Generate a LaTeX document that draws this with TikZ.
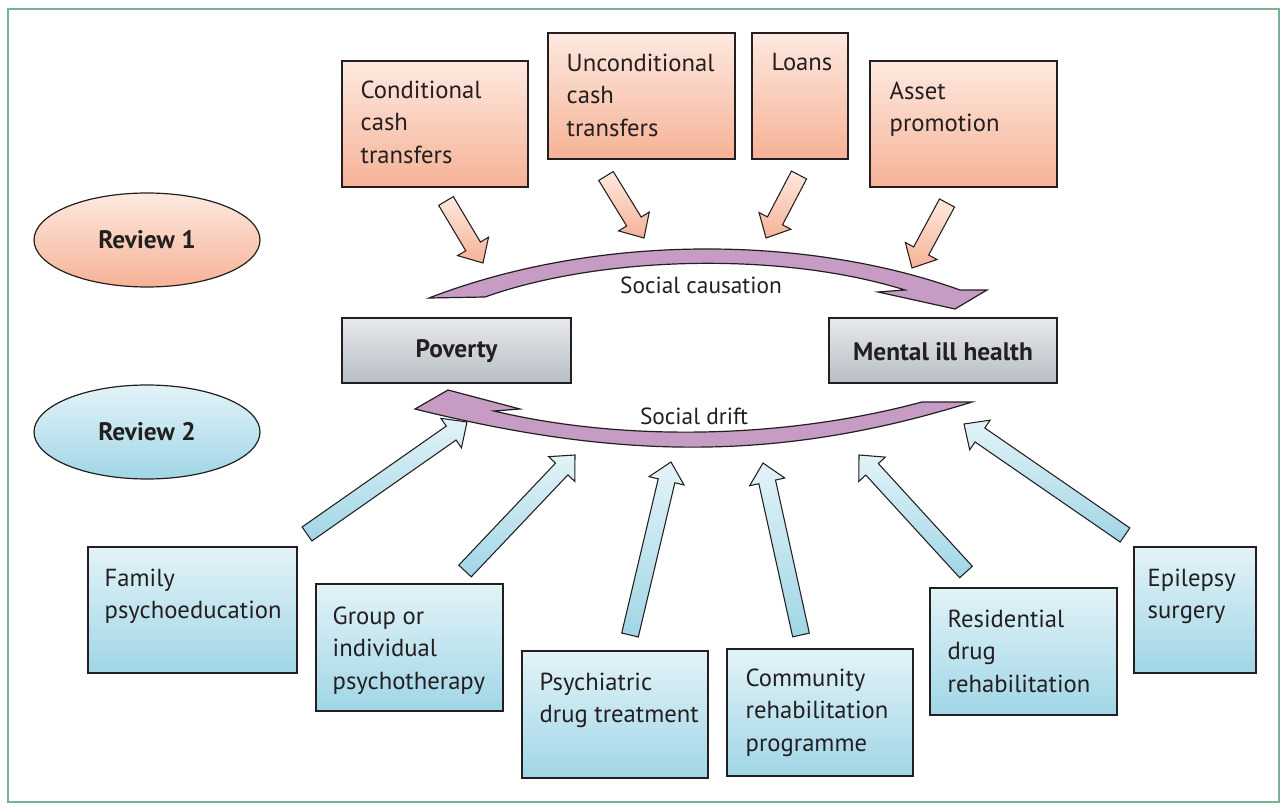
\documentclass[tikz,border=0pt]{standalone}
\usepackage{fontspec}
\setmainfont{PT Sans}
\usetikzlibrary{shapes.geometric,calc,fit}
\definecolor{framegreen}{RGB}{122,179,148}
\definecolor{ortop}{RGB}{253,233,224}
\definecolor{orbot}{RGB}{246,178,150}
\definecolor{bltop}{RGB}{227,243,248}
\definecolor{blbot}{RGB}{160,214,230}
\definecolor{grtop}{RGB}{231,233,235}
\definecolor{grbot}{RGB}{184,190,197}
\definecolor{purp}{RGB}{198,156,196}
\definecolor{ink}{RGB}{35,31,32}
\newcommand\shw{6.4pt}
\newcommand\hdw{13.5pt}
\newcommand\hdl{14.5pt}
% block arrow: style, tail coordinate, tip coordinate
\newcommand\blockarr[3]{%
  \path[#1] ($(#2)!\shw!90:(#3)$) -- ($(#3)!\hdl!(#2)!\shw!-90:(#2)$)
    -- ($(#3)!\hdl!(#2)!\hdw!-90:(#2)$) -- (#3)
    -- ($(#3)!\hdl!(#2)!\hdw!90:(#2)$) -- ($(#3)!\hdl!(#2)!\shw!90:(#2)$)
    -- ($(#2)!\shw!-90:(#3)$) -- cycle;}
\begin{document}
\begin{tikzpicture}[x=0.75pt,y=-0.75pt,
  frame/.style={draw=framegreen,line width=1.5pt},
  box/.style={draw=ink,line width=0.9pt,rectangle,inner sep=0pt},
  obox/.style={box,top color=ortop,bottom color=orbot},
  bbox/.style={box,top color=bltop,bottom color=blbot},
  gbox/.style={box,top color=grtop,bottom color=grbot},
  txt/.style={anchor=north west,inner sep=0pt,align=left,text=ink,font=\fontsize{18.5}{24.4}\selectfont},
  btxt/.style={inner sep=0pt,text=ink,font=\bfseries\fontsize{19}{24}\selectfont},
  oval/.style={ellipse,draw=ink,line width=0.9pt,minimum width=169.5pt,minimum height=70.5pt,inner sep=0pt,text=ink,font=\bfseries\fontsize{19}{24}\selectfont},
  oarr/.style={draw=ink,line width=0.8pt,top color=ortop,bottom color=orbot},
  barr/.style={draw=ink,line width=0.8pt,top color=bltop,bottom color=blbot},
  arc/.style={draw=ink,line width=0.9pt,fill=purp,line join=miter},
  lbl/.style={inner sep=0pt,text=ink,font=\fontsize{17.5}{24}\selectfont}]
\useasboundingbox (0,0) rectangle (1287,812);
\draw[frame] (8,9) rectangle (1279,802);

% review ovals
\node[oval,top color=ortop,bottom color=orbot] (r1) at (147,240) {Review 1};
\node[oval,top color=bltop,bottom color=blbot] (r2) at (147,432) {Review 2};

% top boxes
\node[obox,fit={(342,61) (528,187)}] (cct) {};
\node[obox,fit={(548,33) (735,159)}] (uct) {};
\node[obox,fit={(752,33) (848,159)}] (loans) {};
\node[obox,fit={(870,61) (1057,187)}] (asset) {};
\node[txt] (cctt) at ($(cct.north west)+(19,20)$) {Conditional\\cash\\transfers};
\node[txt] (uctt) at ($(uct.north west)+(19,21)$) {Unconditional\\cash\\transfers};
\node[txt] (loanst) at ($(loans.north west)+(20,21)$) {Loans};
\node[txt] (assett) at ($(asset.north west)+(20,21)$) {Asset\\promotion};

% central boxes
\node[gbox,fit={(342,318) (571,383)}] (pov) {};
\node[gbox,fit={(829,318) (1057,383)}] (mih) {};
\node[btxt] (povt) at ($(pov.center)+(0,1)$) {Poverty};
\node[btxt] (miht) at ($(mih.center)+(0,1)$) {Mental ill health};

% bottom boxes
\node[bbox,fit={(88,547) (297,673)}] (fam) {};
\node[bbox,fit={(316,584) (503,711)}] (grp) {};
\node[bbox,fit={(522,651) (708,778)}] (psy) {};
\node[bbox,fit={(727,649) (913,776)}] (com) {};
\node[bbox,fit={(930,588) (1117,715)}] (res) {};
\node[bbox,fit={(1134,547) (1256,673)}] (epi) {};
\node[txt] (famt) at ($(fam.north west)+(17,22)$) {Family\\psychoeducation};
\node[txt] (grpt) at ($(grp.north west)+(17,23)$) {Group or\\individual\\psychotherapy};
\node[txt] (psyt) at ($(psy.north west)+(18,22)$) {Psychiatric\\drug treatment};
\node[txt] (comt) at ($(com.north west)+(19,20)$) {Community\\rehabilitation\\programme};
\node[txt] (rest) at ($(res.north west)+(18,22)$) {Residential\\drug\\rehabilitation};
\node[txt] (epit) at ($(epi.north west)+(14,22)$) {Epilepsy\\surgery};

% social causation arc
\draw[arc] (429,298) .. controls (600,232) and (810,236) .. (960,290)
  -- (987,290) -- (955,309) -- (878,292) -- (905,290)
  .. controls (780,251) and (600,256) .. (485,297) -- cycle;
\node[lbl] (sc) at (701,285) {Social causation};

% social drift arc
\draw[arc] (972,402) -- (922,402) .. controls (780,440) and (620,441) .. (494,411)
  -- (520,409) -- (448,390) -- (415,409)
  .. controls (620,460) and (780,462) .. (972,402) -- cycle;
\node[lbl] (sd) at (694,416) {Social drift};

% orange arrows
\coordinate (cctS) at (446,201); \coordinate (cctE) at (483,263);
\coordinate (uctS) at (606,176); \coordinate (uctE) at (644,238);
\coordinate (loanS) at (799,175); \coordinate (loanE) at (766,238);
\coordinate (astS) at (947,203); \coordinate (astE) at (912,268);
\blockarr{oarr}{cctS}{cctE}
\blockarr{oarr}{uctS}{uctE}
\blockarr{oarr}{loanS}{loanE}
\blockarr{oarr}{astS}{astE}

% blue arrows
\coordinate (famS) at (307,534); \coordinate (famE) at (467,422);
\coordinate (grpS) at (465,571); \coordinate (grpE) at (575,455);
\coordinate (psyS) at (630,635); \coordinate (psyE) at (671,462);
\coordinate (comS) at (801,635); \coordinate (comE) at (763,463);
\coordinate (resS) at (966,572); \coordinate (resE) at (859,455);
\coordinate (epiS) at (1125,535); \coordinate (epiE) at (964,424);
\blockarr{barr}{famS}{famE}
\blockarr{barr}{grpS}{grpE}
\blockarr{barr}{psyS}{psyE}
\blockarr{barr}{comS}{comE}
\blockarr{barr}{resS}{resE}
\blockarr{barr}{epiS}{epiE}
\end{tikzpicture}
\end{document}
